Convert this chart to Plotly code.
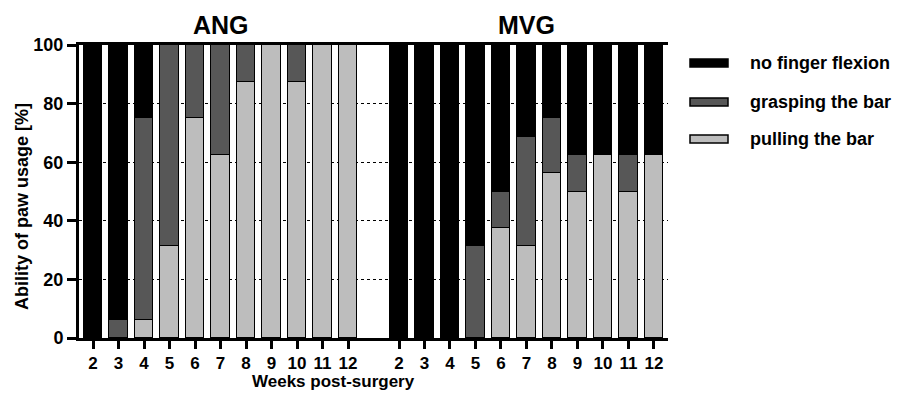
import plotly.graph_objects as go

weeks = [2, 3, 4, 5, 6, 7, 8, 9, 10, 11, 12]
groups = ["ANG", "MVG"]
series_names = ["pulling the bar", "grasping the bar", "no finger flexion"]
series_colors = ["#bdbdbd", "#575757", "#000000"]

ang_pull = [0, 0, 6.25, 31.25, 75, 62.5, 87.5, 100, 87.5, 100, 100]
ang_grasp = [0, 6.25, 68.75, 68.75, 25, 37.5, 12.5, 0, 12.5, 0, 0]
ang_none = [100, 93.75, 25, 0, 0, 0, 0, 0, 0, 0, 0]

mvg_pull = [0, 0, 0, 0, 37.5, 31.25, 56.25, 50, 62.5, 50, 62.5]
mvg_grasp = [0, 0, 0, 31.25, 12.5, 37.5, 18.75, 12.5, 0, 12.5, 0]
mvg_none = [100, 100, 100, 68.75, 50, 31.25, 25, 37.5, 37.5, 37.5, 37.5]

yticks = [0, 20, 40, 60, 80, 100]

FONT = "Arial, Liberation Sans, sans-serif"

# positions: ANG group at 0..10, one empty slot, MVG at 12..22
n = len(weeks)
pos_ang = list(range(n))
pos_mvg = [n + 1 + i for i in range(n)]
xpos = pos_ang + pos_mvg
xtext = [str(w) for w in weeks] * 2

data_sets = [ang_pull + mvg_pull, ang_grasp + mvg_grasp, ang_none + mvg_none]

fig = go.Figure()
for name, color, vals in zip(series_names, series_colors, data_sets):
    fig.add_trace(go.Bar(
        x=xpos,
        y=[v if v else None for v in vals],
        name=name,
        marker=dict(color=color, line=dict(color="black", width=1.5)),
        width=0.72,
        showlegend=False,
    ))

L, R, T, B = 79, 229, 45, 56
W, H = 897, 394
pw = W - L - R
ph = H - T - B

def px_to_paper_x(px):
    return (px - L) / pw

def px_to_paper_y(py):
    return (H - B - py) / ph

annotations = [
    dict(text="ANG", x=(pos_ang[0] + pos_ang[-1]) / 2, xref="x", y=px_to_paper_y(25), yref="paper",
         showarrow=False, font=dict(size=25, family=FONT, color="black", weight="bold"),
         xanchor="center", yanchor="middle"),
    dict(text="MVG", x=(pos_mvg[0] + pos_mvg[-1]) / 2, xref="x", y=px_to_paper_y(25), yref="paper",
         showarrow=False, font=dict(size=25, family=FONT, color="black", weight="bold"),
         xanchor="center", yanchor="middle"),
    dict(text="Weeks post-surgery", x=px_to_paper_x(333), xref="paper", y=px_to_paper_y(381), yref="paper",
         showarrow=False, font=dict(size=17, family=FONT, color="black", weight="bold"),
         xanchor="center", yanchor="middle"),
    dict(text="Ability of paw usage [%]", x=px_to_paper_x(22), xref="paper", y=px_to_paper_y(207), yref="paper",
         showarrow=False, textangle=-90, font=dict(size=18, family=FONT, color="black", weight="bold"),
         xanchor="center", yanchor="middle"),
]

shapes = []
legend_rows = [(series_names[2], series_colors[2], 63), (series_names[1], series_colors[1], 102),
               (series_names[0], series_colors[0], 139)]
for name, color, cy in legend_rows:
    shapes.append(dict(type="rect", xref="paper", yref="paper",
                       x0=px_to_paper_x(690), x1=px_to_paper_x(728),
                       y0=px_to_paper_y(cy + 4), y1=px_to_paper_y(cy - 4),
                       fillcolor=color, line=dict(color="black", width=1.5)))
    annotations.append(dict(text=name, x=px_to_paper_x(748), xref="paper", y=px_to_paper_y(cy), yref="paper",
                            showarrow=False, xanchor="left", yanchor="middle",
                            font=dict(size=18, family=FONT, color="black", weight="bold")))

fig.update_layout(
    barmode="stack",
    width=W, height=H,
    margin=dict(l=L, r=R, t=T, b=B),
    plot_bgcolor="white", paper_bgcolor="white",
    font=dict(family=FONT, color="black"),
    annotations=annotations,
    shapes=shapes,
    bargap=0,
)
fig.update_xaxes(
    range=[-0.55, pos_mvg[-1] + 0.55],
    tickvals=xpos, ticktext=xtext,
    ticks="outside", ticklen=8, tickwidth=2.5, tickcolor="black",
    showline=True, linewidth=2.5, linecolor="black", mirror=True,
    showgrid=False, zeroline=False,
    tickfont=dict(size=17, family=FONT, color="black", weight="bold"),
)
fig.update_yaxes(
    range=[0, 100],
    tickvals=yticks,
    ticks="outside", ticklen=9, tickwidth=2.5, tickcolor="black",
    showline=True, linewidth=3, linecolor="black",
    showgrid=True, gridcolor="black", griddash="dot", gridwidth=1,
    zeroline=False,
    tickfont=dict(size=18, family=FONT, color="black", weight="bold"),
)

fig.write_html("out.html", config={"displayModeBar": False},
               post_script="document.body.style.margin='0';document.body.style.overflow='hidden';")
